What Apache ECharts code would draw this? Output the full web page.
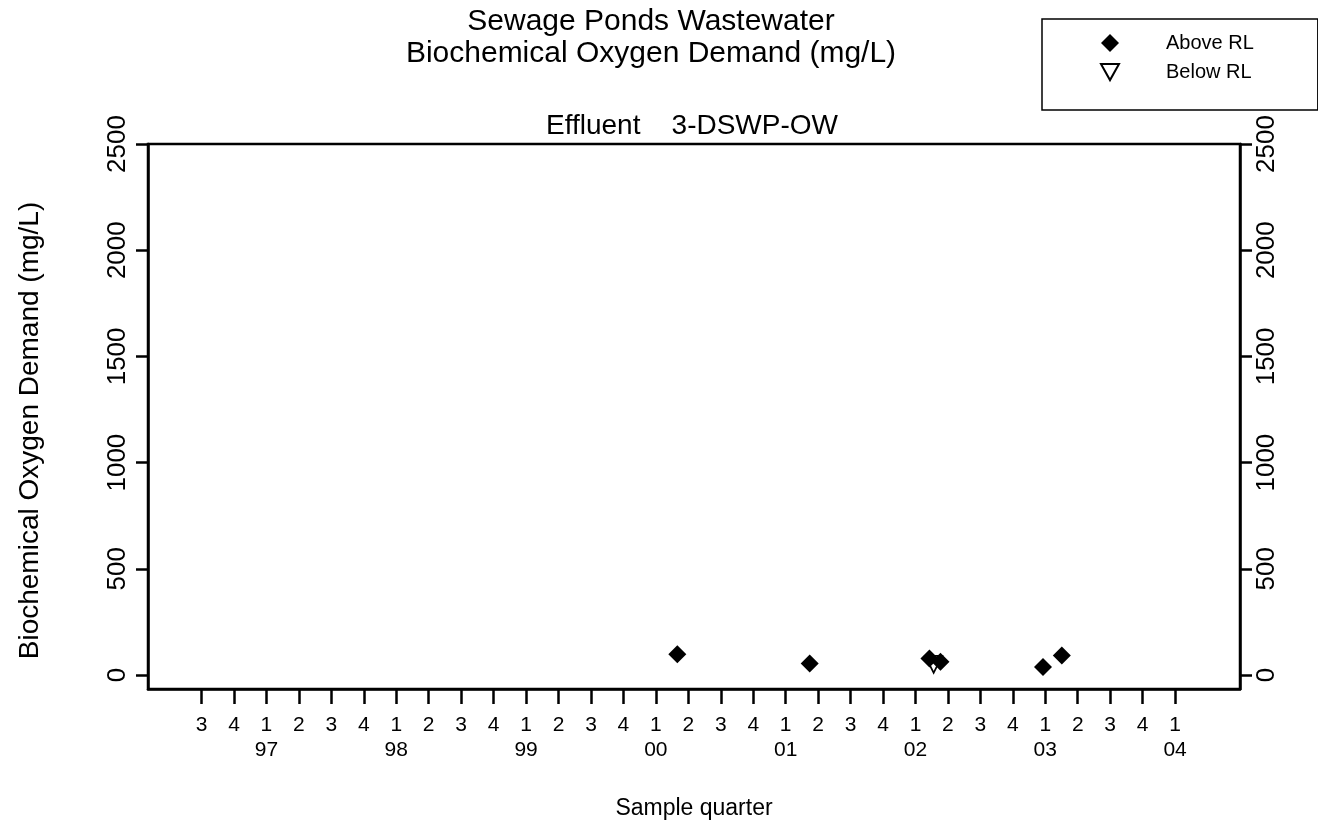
<!DOCTYPE html>
<html>
<head>
<meta charset="utf-8">
<script src="https://cdn.jsdelivr.net/npm/echarts@6/dist/echarts.min.js"></script>
<style>
  html, body { margin: 0; padding: 0; background: #ffffff; }
  #chart { width: 1318px; height: 830px; }
</style>
</head>
<body>
<div id="chart"></div>
<script>
// ---- data ----
const quarterLabels = ['3','4','1','2','3','4','1','2','3','4','1','2','3','4','1','2','3','4','1','2','3','4','1','2','3','4','1','2','3','4','1'];
const yearLabels = ['', '', '97', '', '', '', '98', '', '', '', '99', '', '', '', '00', '', '', '', '01', '', '', '', '02', '', '', '', '03', '', '', '', '04'];
const quarterTicks = quarterLabels.map((_, i) => i);
const yTicks = [0, 500, 1000, 1500, 2000, 2500];
// sample position (quarter index from 1996 Q3) and BOD value, mg/L
const aboveX = [14.66, 18.74, 22.43, 22.77, 25.93, 26.51];
const aboveY = [98, 54, 78, 62, 38, 92];
const belowX = [22.56];
const belowY = [50];

const FONT = 'Liberation Sans, Arial, Helvetica, sans-serif';
const aboveData = aboveX.map((x, i) => [x, aboveY[i]]);
const belowData = belowX.map((x, i) => [x, belowY[i]]);

const yMin = -66, yMax = 2500;
const xMin = -1.65, xMax = 32;

function yAxisCfg(pos) {
  return {
    type: 'value', position: pos, min: yMin, max: yMax,
    splitLine: { show: false },
    axisLine: { show: true, onZero: false, lineStyle: { color: '#000', width: 2.5 } },
    axisTick: { show: true, length: 12, customValues: yTicks, lineStyle: { color: '#000', width: 2.5 } },
    axisLabel: {
      show: true, customValues: yTicks, rotate: 90, margin: pos === 'left' ? 17 : 14,
      color: '#000', fontFamily: FONT, fontSize: 26, lineHeight: 26,
      formatter: function (v) { return String(Math.round(v)); }
    }
  };
}

const chart = echarts.init(document.getElementById('chart'), null, { renderer: 'canvas' });
const leftY = yAxisCfg('left');
leftY.name = 'Biochemical Oxygen Demand (mg/L)';
leftY.nameLocation = 'middle';
leftY.nameGap = 104;
leftY.nameTextStyle = { color: '#000', fontFamily: FONT, fontSize: 28, lineHeight: 28, padding: [0, 28, 0, 0] };

chart.setOption({
  backgroundColor: '#ffffff',
  animation: false,
  title: [
    {
      text: 'Sewage Ponds Wastewater\nBiochemical Oxygen Demand (mg/L)',
      left: 646, top: 1, textAlign: 'center',
      textStyle: { color: '#000', fontFamily: FONT, fontSize: 30, fontWeight: 'normal', lineHeight: 32 }
    },
    {
      text: 'Effluent    3-DSWP-OW',
      left: 687, top: 105, textAlign: 'center',
      textStyle: { color: '#000', fontFamily: FONT, fontSize: 28, fontWeight: 'normal', lineHeight: 32 }
    }
  ],
  legend: {
    orient: 'vertical', left: 1042, top: 19,
    data: ['Above RL', 'Below RL'],
    selectedMode: false,
    itemWidth: 18, itemHeight: 18, itemGap: 9,
    padding: [14, 64, 28, 58],
    borderColor: '#000', borderWidth: 1.5, backgroundColor: '#fff',
    textStyle: { color: '#000', fontFamily: FONT, fontSize: 20, lineHeight: 20, padding: [0, 0, 0, 42] }
  },
  grid: {
    left: 148, right: 1318 - 1240, top: 144, bottom: 830 - 689,
    show: true, borderColor: '#000', borderWidth: 2.5, backgroundColor: 'transparent'
  },
  xAxis: {
    type: 'value', min: xMin, max: xMax,
    name: 'Sample quarter', nameLocation: 'middle', nameGap: 108,
    nameTextStyle: { color: '#000', fontFamily: FONT, fontSize: 23 },
    splitLine: { show: false },
    axisLine: { show: true, onZero: false, lineStyle: { color: '#000', width: 2.5 } },
    axisTick: { show: true, length: 15, customValues: quarterTicks, lineStyle: { color: '#000', width: 2.5 } },
    axisLabel: {
      show: true, customValues: quarterTicks, margin: 23.5,
      color: '#000', fontFamily: FONT, fontSize: 21, lineHeight: 25,
      formatter: function (v) {
        const i = Math.round(v);
        return quarterLabels[i] + '\n' + (yearLabels[i] || ' ');
      }
    }
  },
  yAxis: [leftY, yAxisCfg('right')],
  series: [
    {
      name: 'Below RL', type: 'scatter', data: belowData, z: 2,
      symbol: 'path://M0,0 L20,0 L10,18 Z', symbolSize: 17,
      itemStyle: { color: '#ffffff', borderColor: '#000', borderWidth: 1.8, opacity: 1 }
    },
    {
      name: 'Above RL', type: 'scatter', data: aboveData, z: 3,
      symbol: 'diamond', symbolSize: 18,
      itemStyle: { color: '#000', opacity: 1 }
    }
  ]
});
</script>
</body>
</html>
